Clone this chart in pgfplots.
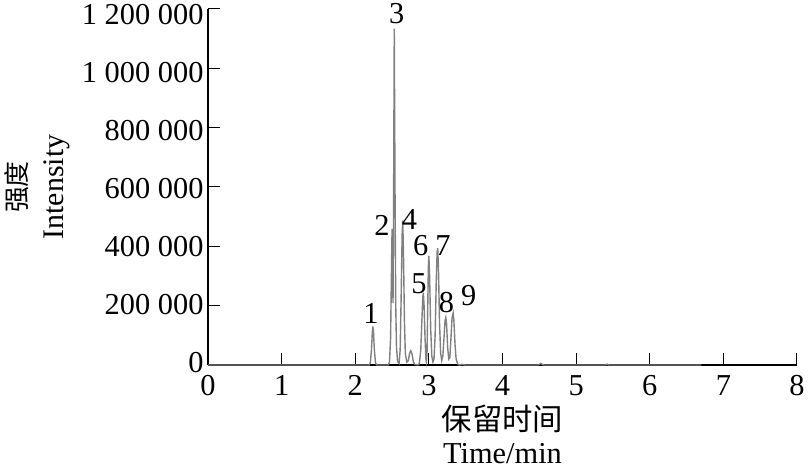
\documentclass[border=0pt]{standalone}
\usepackage{fontspec}
\setmainfont{Liberation Serif}
\newfontfamily\cjk{Noto Sans CJK SC}
\usepackage{pgfplots}
\pgfplotsset{compat=1.18}
\begin{document}
\begin{tikzpicture}
\begin{axis}[
  scale only axis, width=589bp, height=356bp,
  xmin=0, xmax=8, ymin=0, ymax=1200000,
  axis lines=left,
  axis line style={-, line width=1.2bp, black},
  xtick={0,1,2,3,4,5,6,7,8},
  xticklabels={0,1,2,3,4,5,6,7,8},
  ytick={0,200000,400000,600000,800000,1000000,1200000},
  yticklabels={0,200\ 000,400\ 000,600\ 000,800\ 000,1\ 000\ 000,1\ 200\ 000},
  scaled y ticks=false,
  tick align=inside, major tick length=12bp,
  tick style={line width=1bp, black},
  ticklabel style={font=\fontsize{30.5}{30.5}\selectfont},
  yticklabel style={xshift=-1bp, yshift={(2-1.2*\ticknum)*1bp}},
  xticklabel style={yshift=-7bp},
  every axis y label/.style={at={(axis description cs:0,0.5)}, xshift=-171bp, anchor=center, rotate=90, align=center, font=\fontsize{30}{37.5}\selectfont},
  every axis x label/.style={at={(axis description cs:0.5,0)}, yshift=-69bp, anchor=center, align=center, font=\fontsize{30.5}{33}\selectfont},
  ylabel={{\cjk\fontsize{26}{26}\selectfont 强度}\\Intensity},
  xlabel={{\cjk 保留时间}\\Time/min},
  clip=false,
]
\addplot[color=black!50, line width=1.4bp] coordinates {
(0,0) (2.19,0) (2.205,8000) (2.22,50000) (2.232,110000) (2.24,130000) (2.248,110000) (2.26,50000) (2.275,8000) (2.29,0)
(2.45,0) (2.465,10000) (2.48,90000) (2.49,280000) (2.50,459000) (2.508,300000) (2.513,209000) (2.52,500000) (2.53,1134000) (2.54,600000) (2.55,200000) (2.56,60000) (2.575,12000) (2.595,5000) (2.61,50000) (2.625,250000) (2.637,440000) (2.645,487000) (2.655,380000) (2.668,150000) (2.68,40000) (2.70,10000) (2.72,15000) (2.74,40000) (2.755,48000) (2.77,38000) (2.79,10000) (2.81,2000) (2.85,0)
(2.87,5000) (2.89,50000) (2.905,150000) (2.918,230000) (2.925,244000) (2.935,200000) (2.948,90000) (2.96,20000) (2.967,11000) (2.975,40000) (2.985,200000) (2.993,330000) (3.00,368000) (3.01,300000) (3.025,120000) (3.04,30000) (3.055,10000)
(3.07,20000) (3.085,100000) (3.10,280000) (3.112,380000) (3.12,394000) (3.13,330000) (3.145,140000) (3.16,40000) (3.175,15000)
(3.19,30000) (3.205,90000) (3.22,150000) (3.23,160000) (3.24,140000) (3.255,60000) (3.27,20000)
(3.285,25000) (3.30,90000) (3.315,160000) (3.33,175000) (3.34,150000) (3.355,70000) (3.37,20000) (3.39,4000) (3.41,0)
(3.45,2000) (3.5,0) (4.48,0) (4.52,5000) (4.56,0) (5.40,0) (5.42,3000) (5.44,0) (6.7,0)
};
\node[font=\fontsize{30.5}{30.5}\selectfont] at (axis cs:2.215,174000) {1};
\node[font=\fontsize{30.5}{30.5}\selectfont] at (axis cs:2.364,470000) {2};
\node[font=\fontsize{30.5}{30.5}\selectfont] at (axis cs:2.564,1185000) {3};
\node[font=\fontsize{30.5}{30.5}\selectfont] at (axis cs:2.738,491600) {4};
\node[font=\fontsize{30.5}{30.5}\selectfont] at (axis cs:2.867,275000) {5};
\node[font=\fontsize{30.5}{30.5}\selectfont] at (axis cs:2.89,402000) {6};
\node[font=\fontsize{30.5}{30.5}\selectfont] at (axis cs:3.19,402000) {7};
\node[font=\fontsize{30.5}{30.5}\selectfont] at (axis cs:3.24,209000) {8};
\node[font=\fontsize{30.5}{30.5}\selectfont] at (axis cs:3.54,233000) {9};
\coordinate (bl) at (rel axis cs:0,0);
\end{axis}
\pgfresetboundingbox
\useasboundingbox ([shift={(-208bp,-102bp)}]bl) rectangle ([shift={(601bp,365bp)}]bl);
\end{tikzpicture}
\end{document}
